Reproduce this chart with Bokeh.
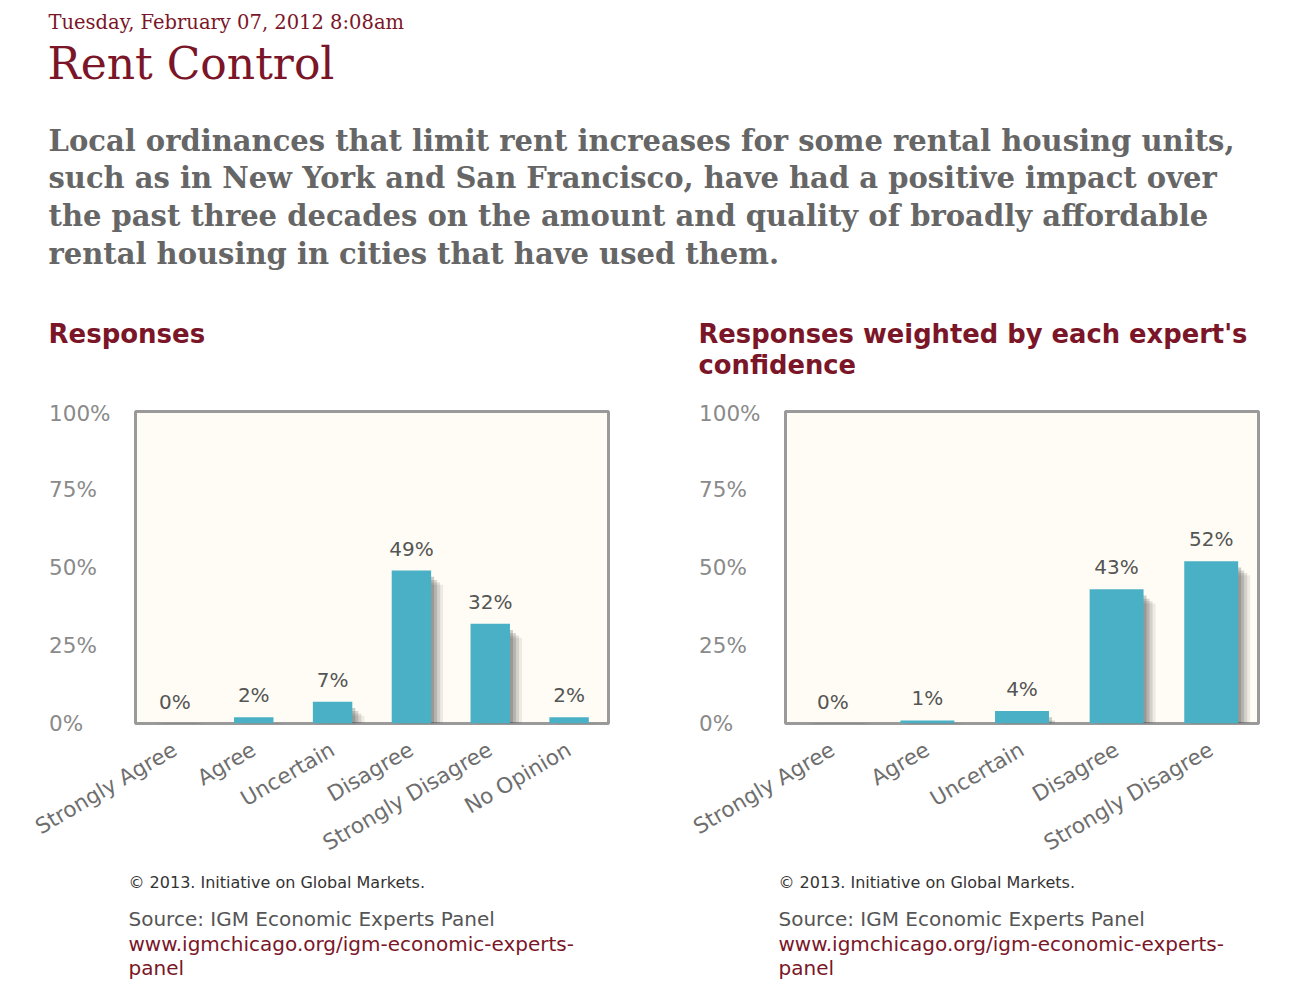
import math
from bokeh.plotting import figure
from bokeh.models import Range1d, FactorRange, FixedTicker, ColumnDataSource
from bokeh.layouts import column, row
from bokeh.transform import dodge
from bokeh.core.properties import value
from bokeh.embed import file_html
from bokeh.resources import INLINE

# ---------------- data ----------------
date_text = "Tuesday, February 07, 2012 8:08am"
title_text = "Rent Control"
question_lines = [
    "Local ordinances that limit rent increases for some rental housing units,",
    "such as in New York and San Francisco, have had a positive impact over",
    "the past three decades on the amount and quality of broadly affordable",
    "rental housing in cities that have used them.",
]
left_heading = ["Responses"]
right_heading = ["Responses weighted by each expert's", "confidence"]

cats_left = ["Strongly Agree", "Agree", "Uncertain", "Disagree", "Strongly Disagree", "No Opinion"]
vals_left = [0, 2, 7, 49, 32, 2]

cats_right = ["Strongly Agree", "Agree", "Uncertain", "Disagree", "Strongly Disagree"]
vals_right = [0, 1, 4, 43, 52]

y_ticks = [0, 25, 50, 75, 100]
y_tick_labels = ["0%", "25%", "50%", "75%", "100%"]

copyright_text = "\u00a9 2013. Initiative on Global Markets."
source_text = "Source: IGM Economic Experts Panel"
url_lines = ["www.igmchicago.org/igm-economic-experts-", "panel"]

# ---------------- styles ----------------
RED = "#7A1628"
GRAY_Q = "#666666"
BAR = "#4AB0C6"
SANS = "DejaVu Sans"
SERIF = "DejaVu Serif"


def canvas(w, h):
    p = figure(width=w, height=h, x_range=Range1d(0, w), y_range=Range1d(h, 0),
               output_backend="svg", toolbar_location=None, min_border=0,
               x_axis_location=None, y_axis_location=None)
    p.xgrid.visible = False
    p.ygrid.visible = False
    p.outline_line_color = None
    p.background_fill_color = "white"
    p.border_fill_color = "white"
    return p


# ---------------- header ----------------
header = canvas(1296, 400)
header.text(x=[48], y=[22], text=[date_text], text_font=value(SERIF),
            text_font_size="19.5px", text_color=RED, text_baseline="middle")
header.text(x=[47], y=[63], text=[title_text], text_font=value(SERIF),
            text_font_size="44px", text_color=RED, text_baseline="middle")
header.text(x=[48] * len(question_lines), y=[140 + 37.8 * i for i in range(len(question_lines))],
            text=question_lines, text_font=value(SERIF), text_font_style="bold",
            text_font_size="29px", text_color=GRAY_Q, text_baseline="middle")
header.text(x=[48] * len(left_heading), y=[333 + 31 * i for i in range(len(left_heading))],
            text=left_heading, text_font=value(SANS), text_font_style="bold",
            text_font_size="26px", text_color=RED, text_baseline="middle")
header.text(x=[698] * len(right_heading), y=[333 + 31 * i for i in range(len(right_heading))],
            text=right_heading, text_font=value(SANS), text_font_style="bold",
            text_font_size="25.8px", text_color=RED, text_baseline="middle")


# ---------------- charts ----------------
def chart(cats, vals, bar_w, px_per_cat, w):
    src = ColumnDataSource(dict(cat=cats, val=vals, lab=[f"{v}%" for v in vals]))
    p = figure(width=w, height=470, x_range=FactorRange(factors=cats),
               y_range=Range1d(0, 100), output_backend="svg", toolbar_location=None,
               min_border_left=135, min_border_right=w - 608,
               min_border_top=11, min_border_bottom=147)
    p.background_fill_color = "#FEFCF4"
    p.border_fill_color = "white"
    p.outline_line_color = "#9a9a9a"
    p.outline_line_width = 3
    p.xgrid.visible = False
    p.ygrid.visible = False

    # soft drop shadow (layers)
    for dx_px, dy_pct, a in ((3, -2.0, 0.28), (6, -3.0, 0.22), (9, -3.8, 0.16), (12, -4.5, 0.1)):
        p.vbar(x=dodge("cat", dx_px / px_per_cat, range=p.x_range), top=dodge("val", dy_pct),
               bottom=0, width=bar_w, source=src, fill_color="#505050", fill_alpha=a,
               line_color=None)
    p.vbar(x="cat", top="val", bottom=0, width=bar_w, source=src,
           fill_color=BAR, line_color=None)
    p.text(x="cat", y="val", text="lab", source=src, text_align="center",
           text_baseline="bottom", y_offset=-10, text_font=value(SANS),
           text_font_size="20px", text_color="#555555")

    ya = p.yaxis[0]
    ya.ticker = FixedTicker(ticks=y_ticks)
    ya.major_label_overrides = {t: lab.ljust(4, "\u2007") for t, lab in zip(y_ticks, y_tick_labels)}
    ya.axis_line_color = None
    ya.major_tick_line_color = None
    ya.minor_tick_line_color = None
    ya.major_tick_out = 0
    ya.major_tick_in = 0
    ya.major_label_standoff = 25
    ya.major_label_text_font = SANS
    ya.major_label_text_font_size = "21.5px"
    ya.major_label_text_color = "#8a8a8a"

    xa = p.xaxis[0]
    xa.axis_line_color = None
    xa.major_tick_line_color = None
    xa.major_tick_out = 0
    xa.major_tick_in = 0
    xa.major_label_orientation = 0.53
    xa.major_label_standoff = 24
    xa.major_label_text_font = SANS
    xa.major_label_text_font_size = "21.5px"
    xa.major_label_text_color = "#6e6e6e"
    return p


left = chart(cats_left, vals_left, 0.5, 472 / 6, 650)
right = chart(cats_right, vals_right, 0.57, 472 / 5, 646)

# ---------------- footer ----------------
footer = canvas(1296, 118)
for x0 in (128, 778):
    footer.text(x=[x0], y=[12], text=[copyright_text], text_font=value(SANS),
                text_font_size="16px", text_color="#333333", text_baseline="middle")
    footer.text(x=[x0], y=[48], text=[source_text], text_font=value(SANS),
                text_font_size="20px", text_color="#555555", text_baseline="middle")
    footer.text(x=[x0] * len(url_lines), y=[73 + 24 * i for i in range(len(url_lines))],
                text=url_lines, text_font=value(SANS), text_font_size="20px",
                text_color=RED, text_baseline="middle")

page = column(header, row(left, right), footer)
open("out.html", "w").write(file_html(page, INLINE))
